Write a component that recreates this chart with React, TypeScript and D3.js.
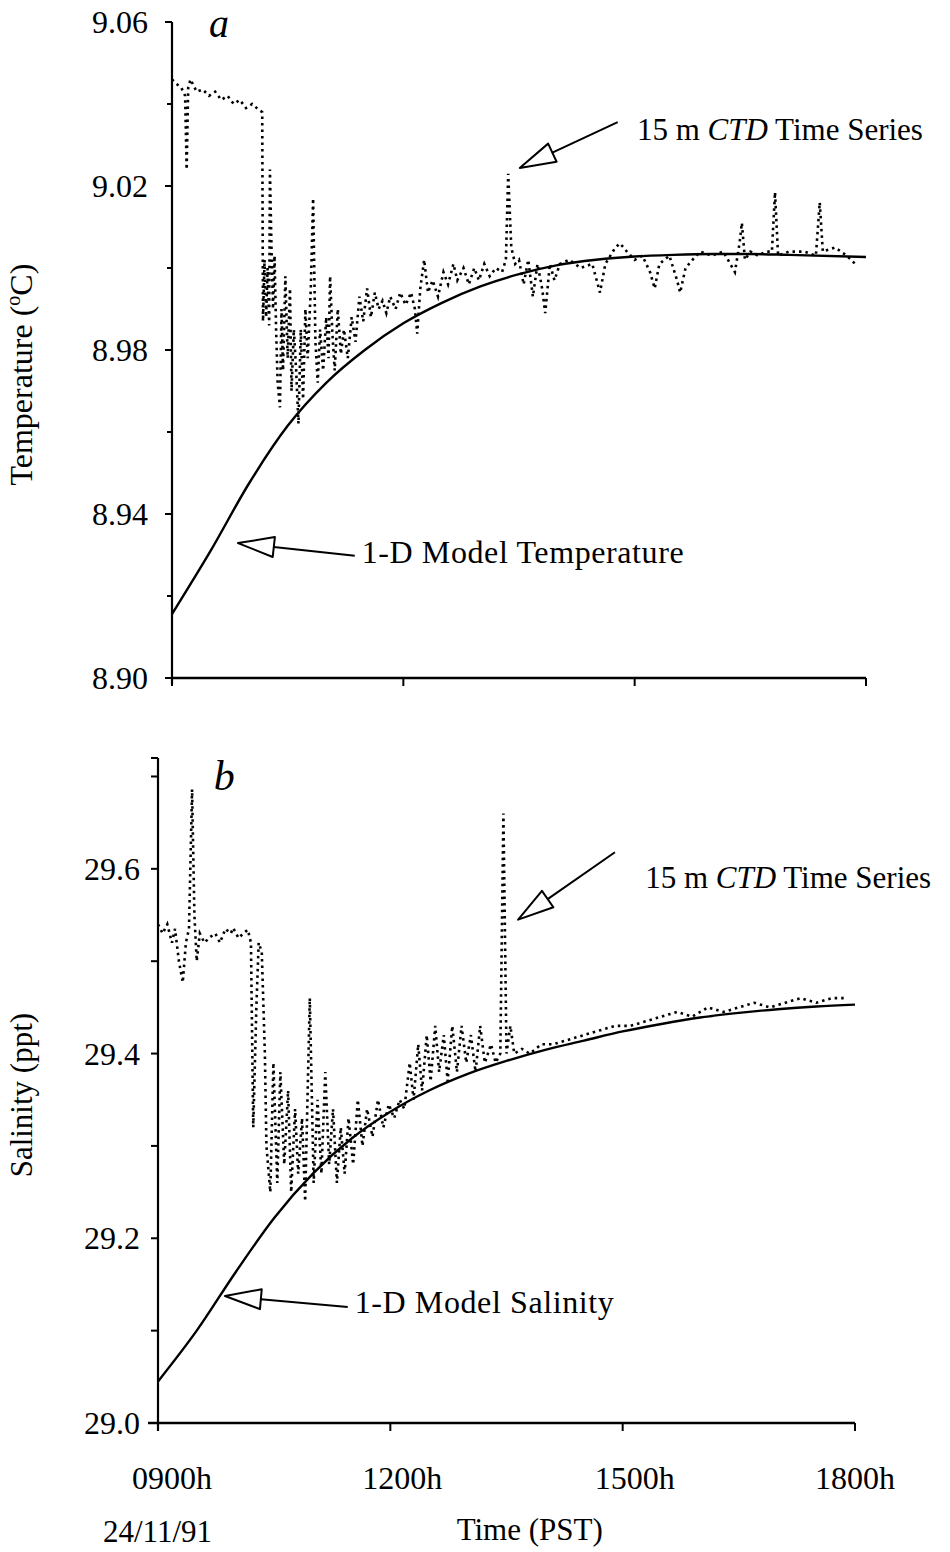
import React from "react";
import * as d3 from "d3";

// ---------- data ----------
const timeTicks = [9, 12, 15, 18];
const timeLabels = ["0900h", "1200h", "1500h", "1800h"];
const tempTickValues = [8.9, 8.92, 8.94, 8.96, 8.98, 9.0, 9.02, 9.04, 9.06];
const tempTickLabels = ["8.90", "", "8.94", "", "8.98", "", "9.02", "", "9.06"];
const salTickValues = [29.0, 29.1, 29.2, 29.3, 29.4, 29.5, 29.6, 29.7];
const salTickLabels = ["29.0", "", "29.2", "", "29.4", "", "29.6", ""];

// 1-D model temperature [hour, degC]
const modelTemp: [number, number][] = [
  [9.0, 8.9156], [9.5, 8.931], [10.0, 8.9475], [10.5, 8.9615], [11.0, 8.972],
  [11.5, 8.98], [12.0, 8.9865], [12.5, 8.9915], [13.0, 8.9955], [13.5, 8.9985],
  [14.0, 9.0007], [14.5, 9.002], [15.0, 9.0028], [15.5, 9.0032], [16.0, 9.0034],
  [16.5, 9.0034], [17.0, 9.0032], [18.0, 9.0027],
];

// 15 m CTD temperature time series [hour, degC]
const ctdTemp: [number, number][] = [
  [9.0, 9.046], [9.05, 9.045], [9.12, 9.044], [9.17, 9.042], [9.19, 9.024], [9.21, 9.044],
  [9.24, 9.046], [9.32, 9.043], [9.4, 9.0435], [9.48, 9.042], [9.56, 9.043], [9.64, 9.041],
  [9.72, 9.042], [9.8, 9.04], [9.88, 9.041], [9.96, 9.039], [10.04, 9.04], [10.1, 9.039],
  [10.17, 9.038], [10.18, 8.987], [10.2, 9.002], [10.22, 8.988], [10.24, 9.0], [10.26, 8.986],
  [10.27, 9.024], [10.29, 9.005], [10.31, 8.99], [10.33, 9.003], [10.35, 8.985], [10.37, 8.972],
  [10.4, 8.966], [10.42, 8.99], [10.44, 8.975], [10.47, 8.998], [10.5, 8.978], [10.53, 8.995],
  [10.55, 8.97], [10.58, 8.985], [10.61, 8.975], [10.64, 8.962], [10.67, 8.985], [10.7, 8.968],
  [10.73, 8.99], [10.76, 8.978], [10.8, 8.995], [10.83, 9.017], [10.86, 8.982], [10.89, 8.972],
  [10.92, 8.985], [10.96, 8.975], [11.0, 8.988], [11.03, 8.978], [11.05, 8.998], [11.08, 8.984],
  [11.11, 8.975], [11.15, 8.99], [11.19, 8.979], [11.23, 8.985], [11.28, 8.978], [11.33, 8.988],
  [11.38, 8.982], [11.43, 8.993], [11.48, 8.987], [11.53, 8.995], [11.58, 8.988], [11.63, 8.994],
  [11.68, 8.99], [11.73, 8.992], [11.78, 8.989], [11.83, 8.993], [11.9, 8.99], [11.96, 8.994],
  [12.03, 8.991], [12.1, 8.994], [12.15, 8.99], [12.18, 8.984], [12.22, 8.995], [12.27, 9.002],
  [12.32, 8.994], [12.38, 8.997], [12.45, 8.993], [12.52, 8.999], [12.58, 8.996], [12.65, 9.001],
  [12.7, 8.997], [12.78, 9.0], [12.85, 8.996], [12.92, 9.0], [12.98, 8.997], [13.05, 9.001],
  [13.12, 8.998], [13.2, 9.0], [13.28, 8.999], [13.33, 9.002], [13.36, 9.023], [13.4, 9.005],
  [13.45, 9.001], [13.5, 9.002], [13.56, 8.996], [13.62, 9.002], [13.68, 8.993], [13.74, 9.001],
  [13.8, 8.995], [13.84, 8.989], [13.9, 9.001], [13.96, 8.997], [14.03, 9.001], [14.15, 9.002],
  [14.3, 9.0], [14.45, 9.001], [14.55, 8.994], [14.62, 9.001], [14.75, 9.005], [14.81, 9.006],
  [14.9, 9.004], [15.0, 9.002], [15.1, 9.003], [15.2, 8.999], [15.26, 8.995], [15.32, 9.001],
  [15.45, 9.003], [15.55, 8.997], [15.59, 8.994], [15.66, 9.0], [15.75, 9.002], [15.85, 9.004],
  [16.0, 9.003], [16.15, 9.004], [16.3, 8.999], [16.36, 9.006], [16.39, 9.011], [16.43, 9.002],
  [16.5, 9.004], [16.6, 9.003], [16.7, 9.004], [16.78, 9.004], [16.82, 9.0185], [16.86, 9.003],
  [17.0, 9.004], [17.2, 9.004], [17.35, 9.003], [17.4, 9.016], [17.44, 9.004], [17.6, 9.005],
  [17.75, 9.003], [17.86, 9.001],
];

// 1-D model salinity [hour, ppt]
const modelSal: [number, number][] = [
  [9.0, 29.045], [9.5, 29.1], [10.0, 29.163], [10.5, 29.222], [11.0, 29.27],
  [11.5, 29.308], [12.0, 29.337], [12.5, 29.36], [13.0, 29.378], [13.5, 29.392],
  [14.0, 29.404], [14.5, 29.414], [15.0, 29.424], [15.5, 29.432], [16.0, 29.439],
  [16.5, 29.444], [17.0, 29.448], [17.5, 29.451], [18.0, 29.453],
];

// 15 m CTD salinity time series [hour, ppt]
const ctdSal: [number, number][] = [
  [9.0, 29.54], [9.06, 29.53], [9.12, 29.54], [9.18, 29.52], [9.22, 29.535], [9.27, 29.5],
  [9.32, 29.477], [9.36, 29.52], [9.4, 29.535], [9.44, 29.686], [9.47, 29.55], [9.5, 29.5],
  [9.54, 29.53], [9.6, 29.52], [9.67, 29.526], [9.74, 29.53], [9.8, 29.52], [9.87, 29.535],
  [9.94, 29.53], [9.97, 29.536], [10.04, 29.525], [10.1, 29.53], [10.16, 29.534], [10.2, 29.52],
  [10.23, 29.32], [10.27, 29.45], [10.3, 29.52], [10.34, 29.51], [10.38, 29.4], [10.4, 29.3],
  [10.45, 29.25], [10.49, 29.39], [10.54, 29.26], [10.58, 29.38], [10.63, 29.28], [10.68, 29.36],
  [10.72, 29.25], [10.77, 29.34], [10.81, 29.27], [10.86, 29.33], [10.9, 29.24], [10.96, 29.46],
  [11.01, 29.26], [11.06, 29.35], [11.11, 29.27], [11.16, 29.38], [11.21, 29.28], [11.26, 29.34],
  [11.31, 29.26], [11.36, 29.32], [11.41, 29.27], [11.46, 29.33], [11.52, 29.28], [11.58, 29.35],
  [11.64, 29.3], [11.7, 29.34], [11.77, 29.31], [11.84, 29.35], [11.91, 29.32], [11.98, 29.345],
  [12.05, 29.33], [12.12, 29.35], [12.18, 29.34], [12.25, 29.39], [12.3, 29.35], [12.36, 29.41],
  [12.41, 29.36], [12.47, 29.42], [12.52, 29.37], [12.58, 29.43], [12.63, 29.38], [12.69, 29.42],
  [12.74, 29.37], [12.8, 29.43], [12.86, 29.38], [12.92, 29.43], [12.98, 29.39], [13.04, 29.42],
  [13.1, 29.38], [13.16, 29.43], [13.22, 29.39], [13.3, 29.41], [13.36, 29.39], [13.42, 29.4],
  [13.46, 29.66], [13.5, 29.4], [13.55, 29.43], [13.6, 29.4], [13.7, 29.405], [13.8, 29.4],
  [13.95, 29.41], [14.1, 29.41], [14.3, 29.415], [14.5, 29.42], [14.7, 29.425], [14.9, 29.43],
  [15.1, 29.43], [15.3, 29.435], [15.5, 29.44], [15.7, 29.445], [15.9, 29.44], [16.1, 29.45],
  [16.3, 29.445], [16.5, 29.45], [16.7, 29.455], [16.9, 29.45], [17.1, 29.455], [17.3, 29.46],
  [17.5, 29.455], [17.7, 29.46], [17.9, 29.46],
];

// annotation anchors in data units [hour, value]
const annTempCtd = { tip: [13.51, 9.0244], tail: [14.78, 9.0356], text: [15.03, 9.0312] };
const annTempModel = { tip: [9.856, 8.9329], tail: [11.37, 8.9298], text: [11.46, 8.928] };
const annSalCtd = { tip: [13.65, 29.545], tail: [14.9, 29.618], text: [15.29, 29.579] };
const annSalModel = { tip: [9.865, 29.1375], tail: [11.45, 29.1256], text: [11.54, 29.119] };

const FONT = "'Liberation Serif', 'Times New Roman', serif";

function Arrow({ x1, y1, x2, y2 }: { x1: number; y1: number; x2: number; y2: number }) {
  // tip at (x1,y1), tail at (x2,y2); hollow head
  const ang = Math.atan2(y2 - y1, x2 - x1);
  const L = 36, W = 10;
  const bx = x1 + Math.cos(ang) * L, by = y1 + Math.sin(ang) * L;
  const px = -Math.sin(ang), py = Math.cos(ang);
  const h2 = `M${x1},${y1} L${bx + px * W},${by + py * W} L${bx - px * W},${by - py * W} Z`;
  return (
    <g>
      <path d={h2} fill="white" stroke="black" strokeWidth={2} strokeLinejoin="round" />
      <line x1={bx} y1={by} x2={x2} y2={y2} stroke="black" strokeWidth={2} />
    </g>
  );
}

export default function App() {
  const W = 950, H = 1552;

  const xa = d3.scaleLinear().domain([9, 18]).range([172, 866]);
  const ya = d3.scaleLinear().domain([8.9, 9.06]).range([678, 22]);
  const xb = d3.scaleLinear().domain([9, 18]).range([158, 855]);
  const yb = d3.scaleLinear().domain([29.0, 29.72]).range([1423, 758]);

  const lineA = d3.line<[number, number]>().x(d => xa(d[0])).y(d => ya(d[1]));
  const smoothA = d3.line<[number, number]>().x(d => xa(d[0])).y(d => ya(d[1])).curve(d3.curveMonotoneX);
  const lineB = d3.line<[number, number]>().x(d => xb(d[0])).y(d => yb(d[1]));
  const smoothB = d3.line<[number, number]>().x(d => xb(d[0])).y(d => yb(d[1])).curve(d3.curveMonotoneX);

  const tickFont = 32;
  const ctdFont = 31;
  const modelFont = 32;
  const timeLabelShift = [14, 12, 12, 0];

  return (
    <svg width={W} height={H} style={{ position: "absolute", left: 0, top: 0, background: "white" }} fontFamily={FONT}>
      <rect x={0} y={0} width={W} height={H} fill="white" />

      {/* ---------- Panel a ---------- */}
      <g>
        <line x1={xa(9)} x2={xa(9)} y1={ya(8.9) + 6} y2={ya(9.06)} stroke="black" strokeWidth={2.2} />
        <line x1={xa(9) - 7} x2={xa(9)} y1={ya(9.06)} y2={ya(9.06)} stroke="black" strokeWidth={2} />
        <line x1={xa(9)} x2={xa(18)} y1={ya(8.9)} y2={ya(8.9)} stroke="black" strokeWidth={2.5} />
        {tempTickValues.map((v, i) => (
          <g key={"ta" + i}>
            <line x1={xa(9) - (tempTickLabels[i] ? 7 : 5)} x2={xa(9)} y1={ya(v)} y2={ya(v)} stroke="black" strokeWidth={2} />
            {tempTickLabels[i] && (
              <text x={xa(9) - 24} y={ya(v)} dy="0.35em" textAnchor="end" fontSize={tickFont}>{tempTickLabels[i]}</text>
            )}
          </g>
        ))}
        {timeTicks.map((t, i) => (
          <line key={"xta" + i} x1={xa(t)} x2={xa(t)} y1={ya(8.9)} y2={ya(8.9) + 8} stroke="black" strokeWidth={2} />
        ))}
        <text x={xa(9.48)} y={ya(9.06) + 15} fontSize={40} fontStyle="italic">a</text>
        <text transform={`translate(32, ${ya(8.974)}) rotate(-90)`} textAnchor="middle" fontSize={32}>
          Temperature (<tspan fontSize={20} dy={-12}>o</tspan><tspan dy={12}>C)</tspan>
        </text>

        <path d={smoothA(modelTemp) || ""} fill="none" stroke="black" strokeWidth={2.4} />
        <path d={lineA(ctdTemp) || ""} fill="none" stroke="black" strokeWidth={2.6} strokeDasharray="2.5 4" />

        <Arrow x1={xa(annTempCtd.tip[0])} y1={ya(annTempCtd.tip[1])} x2={xa(annTempCtd.tail[0])} y2={ya(annTempCtd.tail[1])} />
        <text x={xa(annTempCtd.text[0])} y={ya(annTempCtd.text[1])} fontSize={ctdFont}>
          15 m <tspan fontStyle="italic">CTD</tspan> Time Series
        </text>
        <Arrow x1={xa(annTempModel.tip[0])} y1={ya(annTempModel.tip[1])} x2={xa(annTempModel.tail[0])} y2={ya(annTempModel.tail[1])} />
        <text x={xa(annTempModel.text[0])} y={ya(annTempModel.text[1])} fontSize={modelFont} letterSpacing={0.6}>1-D Model Temperature</text>
      </g>

      {/* ---------- Panel b ---------- */}
      <g>
        <line x1={xb(9)} x2={xb(9)} y1={yb(29.0) + 8} y2={yb(29.72)} stroke="black" strokeWidth={2.2} />
        <line x1={xb(9) - 7} x2={xb(9)} y1={yb(29.72)} y2={yb(29.72)} stroke="black" strokeWidth={2} />
        <line x1={xb(9) - 10} x2={xb(18)} y1={yb(29.0)} y2={yb(29.0)} stroke="black" strokeWidth={2.5} />
        {salTickValues.map((v, i) => (
          <g key={"tb" + i}>
            <line x1={xb(9) - 7} x2={xb(9)} y1={yb(v)} y2={yb(v)} stroke="black" strokeWidth={2} />
            {salTickLabels[i] && (
              <text x={xb(9) - 18} y={yb(v)} dy="0.35em" textAnchor="end" fontSize={tickFont}>{salTickLabels[i]}</text>
            )}
          </g>
        ))}
        {timeTicks.map((t, i) => (
          <g key={"xtb" + i}>
            <line x1={xb(t)} x2={xb(t)} y1={yb(29.0)} y2={yb(29.0) + 8} stroke="black" strokeWidth={2} />
            <text x={xb(t) + timeLabelShift[i]} y={yb(29.0) + 66} textAnchor="middle" fontSize={32}>{timeLabels[i]}</text>
          </g>
        ))}
        <text x={xb(9.72)} y={yb(29.72) + 32} fontSize={42} fontStyle="italic">b</text>
        <text transform={`translate(32, ${yb(29.355)}) rotate(-90)`} textAnchor="middle" fontSize={31}>Salinity (ppt)</text>

        <path d={smoothB(modelSal) || ""} fill="none" stroke="black" strokeWidth={2.4} />
        <path d={lineB(ctdSal) || ""} fill="none" stroke="black" strokeWidth={2.6} strokeDasharray="2.5 4" />

        <Arrow x1={xb(annSalCtd.tip[0])} y1={yb(annSalCtd.tip[1])} x2={xb(annSalCtd.tail[0])} y2={yb(annSalCtd.tail[1])} />
        <text x={xb(annSalCtd.text[0])} y={yb(annSalCtd.text[1])} fontSize={ctdFont}>
          15 m <tspan fontStyle="italic">CTD</tspan> Time Series
        </text>
        <Arrow x1={xb(annSalModel.tip[0])} y1={yb(annSalModel.tip[1])} x2={xb(annSalModel.tail[0])} y2={yb(annSalModel.tail[1])} />
        <text x={xb(annSalModel.text[0])} y={yb(annSalModel.text[1])} fontSize={modelFont} letterSpacing={0.6}>1-D Model Salinity</text>

        <text x={103} y={1542} fontSize={31}>24/11/91</text>
        <text x={xb(13.8)} y={1540} textAnchor="middle" fontSize={31}>Time (PST)</text>
      </g>
    </svg>
  );
}
